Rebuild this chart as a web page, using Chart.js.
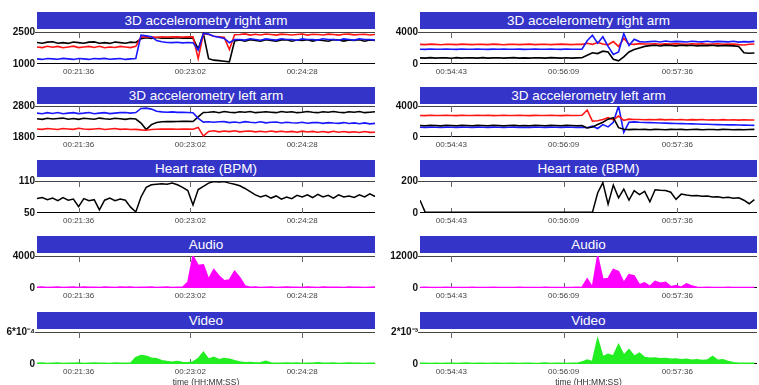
<!DOCTYPE html>
<html>
<head>
<meta charset="utf-8">
<script src="https://cdn.jsdelivr.net/npm/chart.js@4.4.1/dist/chart.umd.min.js"></script>
<style>
  body { margin: 0; width: 759px; height: 385px; position: relative; overflow: hidden; background: #fff;
         font-family: "Liberation Sans", Arial, sans-serif; }
  .banner { position: absolute; background: #3434c8; color: #fff; font-size: 13.5px; text-align: center;
            white-space: nowrap; }
  canvas { position: absolute; }
</style>
</head>
<body>
<script>
  // ---- panel titles and axes ----
  const titles = ['3D accelerometry right arm', '3D accelerometry left arm', 'Heart rate (BPM)', 'Audio', 'Video'];
  const xAxisTitle = 'time (HH:MM:SS)';

  const leftStart = 1264, leftEnd = 1524;      // seconds (00:21:04 - 00:25:24)
  const rightStart = 3259, rightEnd = 3517;    // seconds (00:54:19 - 00:58:37)
  const sampleStep = 4;

  const leftTickTimes = [1296, 1382, 1468];
  const leftTickLabels = ['00:21:36', '00:23:02', '00:24:28'];
  const rightTickTimes = [3283, 3369, 3456];
  const rightTickLabels = ['00:54:43', '00:56:09', '00:57:36'];

  const yRangesLeft = [[1000, 2500], [1800, 2800], [50, 110], [0, 4000], [0, 6e-4]];
  const yLabelsLeft = [['1000', '2500'], ['1800', '2800'], ['50', '110'], ['0', '4000'], ['0', '6*10⁻⁴']];
  const yRangesRight = [[0, 4000], [0, 4000], [0, 200], [0, 12000], [0, 2e-3]];
  const yLabelsRight = [['0', '4000'], ['0', '4000'], ['0', '200'], ['0', '12000'], ['0', '2*10⁻³']];

  // ---- left recording (sampled every 4 s) ----
  const lRightArmBlack = [2010,1970,2025,2040,1975,2000,1965,2030,2000,1970,2025,2035,1975,2000,1965,2030,2000,1975,2025,2010,
    2180,2230,2200,2240,2210,2220,2205,2230,2215,2225,2210,
    1700,2420,1250,1180,1160,1130,1100,2080,
    2130,2070,2140,2100,2065,2135,2100,2075,2130,2140,2070,2125,2100,2135,2075,2130,2100,2065,2140,2125,2075,2130,2100,2135,2070,2125,2100];
  const lRightArmRed = [1800,1770,1830,1785,1825,1765,1800,1835,1770,1800,1825,1775,1830,1765,1800,1775,1825,1800,1770,1830,
    2260,2280,2270,2255,2275,2265,2270,2280,2260,2275,2270,
    1250,2420,2380,2300,2280,2250,1680,2370,
    2380,2410,2355,2395,2360,2405,2380,2355,2400,2385,2360,2380,2405,2355,2395,2380,2360,2400,2380,2355,2395,2400,2365,2380,2395,2360,2380];
  const lRightArmBlue = [1240,1215,1260,1240,1220,1265,1240,1215,1260,1240,1215,1260,1240,1265,1220,1240,1260,1215,1240,1260,
    2350,2320,2280,2100,2040,2010,2000,2020,1990,2010,2000,
    1650,2440,2400,2300,2250,2200,2000,2150,
    2150,2120,2180,2145,2115,2175,2150,2120,2180,2145,2150,2115,2175,2145,2150,2120,2180,2150,2145,2115,2175,2150,2120,2180,2145,2150,2120];

  const lLeftArmBlue = [2570,2550,2585,2560,2590,2550,2570,2585,2555,2570,2590,2550,2570,2585,2555,2570,2585,2590,2570,2590,
    2720,2730,2700,
    2630,2610,2600,2610,2595,2600,2590,2580,
    2400,2280,
    2290,2275,2290,2295,2265,2285,2260,2295,2275,2260,2290,2255,2275,2285,2250,2275,2260,2250,2275,2245,2265,2270,2240,2265,2250,2240,2265,2235,2255,2230,2255,2225,2240];
  const lLeftArmBlack = [2390,2370,2405,2380,2395,2410,2375,2395,2370,2405,2390,2375,2410,2390,2375,2405,2390,2370,2395,2380,
    2250,2040,2200,
    2270,2290,2300,2295,2300,2310,2305,2300,
    2450,2590,
    2600,2615,2585,2620,2600,2585,2615,2600,2620,2585,2600,2615,2600,2585,2620,2600,2615,2585,2600,2620,2600,2585,2615,2600,2620,2600,2585,2615,2600,2620,2585,2600,2615];
  const lLeftArmRed = [2060,2045,2075,2060,2040,2075,2060,2045,2080,2060,2045,2060,2075,2040,2060,2075,2045,2060,2040,2045,
    2030,2020,2040,2050,2060,2055,2060,2050,2055,2060,2050,
    2110,1830,
    1980,2000,1965,1995,1975,2000,1965,1985,1995,1965,1985,1960,1995,1965,1985,1960,1980,1955,1990,1960,1980,1955,1975,1950,1985,1955,1975,1950,1970,1945,1975,1950,1955];

  const lHeartRate = [77,79,75,78,73,79,74,76,62,77,73,75,56,74,78,73,76,74,61,52,
    80,98,103,104,105,104,106,103,98,92,65,94,100,106,109,108,109,106,104,101,96,90,84,
    80,83,78,82,76,80,77,83,80,84,79,85,80,83,78,84,80,82,79,84,80,86,81];

  const lAudio = [80,120,60,100,140,70,90,110,60,130,80,100,70,120,90,60,110,80,130,70,100,90,120,60,80,110,70,100,90,
    700,4000,2800,2900,1100,2300,1500,900,1000,2100,1300,250,
    90,110,70,100,130,60,90,120,80,100,70,110,90,60,120,80,100,90,70,110,80,100,60,90,120];

  const lVideo = [1.2e-5,1.8e-5,1.0e-5,1.5e-5,2.0e-5,1.1e-5,1.6e-5,1.3e-5,1.9e-5,1.0e-5,1.4e-5,1.7e-5,1.2e-5,1.5e-5,1.1e-5,1.8e-5,1.3e-5,1.6e-5,1.2e-5,
    1.2e-4,1.6e-4,1.45e-4,1.1e-4,1.0e-4,6e-5,4.5e-5,3.5e-5,4.5e-5,3e-5,2.5e-5,4e-5,1.0e-4,2.2e-4,9e-5,1.25e-4,8e-5,1.05e-4,9e-5,6e-5,4e-5,2.5e-5,3e-5,2e-5,2.5e-5,5e-5,2e-5,
    1.5e-5,1.2e-5,2.0e-5,1.4e-5,1.8e-5,1.1e-5,1.6e-5,1.3e-5,2.2e-5,1.2e-5,1.5e-5,1.9e-5,1.0e-5,1.4e-5,1.7e-5,1.2e-5,1.6e-5,1.1e-5,1.5e-5,1.3e-5];

  // ---- right recording (sampled every 4 s) ----
  const rRightArmRed = [2450,2420,2480,2450,2415,2475,2450,2425,2480,2450,2420,2475,2450,2425,2480,2450,2415,2450,2475,2425,2450,2480,2420,2450,2475,2425,2450,2480,2450,2420,2475,2450,
    2600,2450,2700,2500,2400,2800,2200,3200,2500,2450,2550,2500,
    2500,2540,2460,2520,2480,2550,2500,2460,2530,2490,2540,2470,2500,2530,2460,2500,2480,2420,2380,2460,2500];
  const rRightArmBlue = [1850,1830,1870,1850,1835,1865,1850,1830,1870,1850,1835,1865,1850,1830,1865,1850,1870,1835,1850,1865,1830,1850,1870,1850,1835,1865,1850,1830,1870,1850,1835,1850,
    2900,3600,2600,3400,2200,1200,1500,3800,2300,3100,2800,2750,
    2800,2840,2760,2870,2780,2830,2800,2750,2850,2800,2770,2840,2760,2830,2800,2770,2840,2740,2800,2760,2830];
  const rRightArmBlack = [770,740,800,730,790,770,720,800,740,790,770,730,800,740,770,790,730,770,800,740,770,730,790,770,740,800,770,730,790,740,770,790,
    1100,1400,1300,1600,1500,600,400,900,1500,1800,2000,2200,
    2300,2340,2260,2360,2310,2270,2350,2300,2340,2260,2310,2300,2350,2270,2310,2300,2260,2200,1400,1350,1380];

  const rLeftArmRed = [2780,2760,2800,2780,2765,2795,2780,2760,2800,2780,2765,2795,2780,2800,2760,2780,2795,2765,2780,2800,2780,2760,2795,2780,2765,2800,2780,2760,2795,2780,2765,2800,
    3480,2050,2100,2250,2500,2200,2700,2150,2300,2250,
    2260,2230,2260,2220,2270,2210,2250,2220,2260,2200,2240,2210,2250,2190,2230,2200,2240,2190,2220,2180,2220,2190,2190];
  const rLeftArmBlack = [1480,1450,1510,1480,1440,1510,1480,1450,1510,1480,1460,1500,1480,1450,1510,1480,1440,1480,1510,1460,1480,1450,1510,1480,1450,1500,1480,1450,1510,1480,1460,1480,
    1170,1300,1600,1900,2300,2500,1200,1000,950,980,
    960,980,940,990,960,940,980,960,990,940,960,980,945,975,960,940,980,960,945,975,940,960,980];
  const rLeftArmBlue = [1260,1240,1280,1260,1235,1275,1260,1240,1280,1260,1245,1275,1260,1240,1280,1260,1235,1260,1280,1245,1260,1240,1280,1260,1240,1275,1260,1240,1280,1260,1245,1260,
    1200,1400,1100,1600,1300,1900,4000,600,1900,1950,
    1900,1880,1850,1830,1800,1790,1760,1740,1720,1700,1690,1670,1650,1640,1620,1600,1590,1570,1560,1540,1530,1510,1500];

  const rHeartRate = [80,4,
    4,4,4,4,4,4,4,4,4,4,4,4,4,4,4,4,4,4,4,4,4,4,4,4,4,4,4,4,4,4,4,4,
    125,190,55,175,95,150,80,140,115,135,70,
    145,142,140,130,85,118,112,108,110,104,106,100,102,96,98,92,95,80,58,84];

  const rAudio = [200,250,150,220,180,260,190,230,170,210,240,160,220,200,250,180,210,230,170,240,200,190,220,160,250,210,180,230,200,170,240,210,
    3400,300,12000,3300,3600,7000,6200,2000,5000,4500,1200,1900,600,2500,1800,2100,500,900,300,1600,800,300,
    200,250,180,220,200,240,190,210,230,180,200];

  const rVideo = [4e-5,5e-5,3e-5,4.5e-5,3.5e-5,5e-5,4e-5,3e-5,4.5e-5,5.5e-5,3.5e-5,4e-5,5e-5,3e-5,4e-5,4.5e-5,3.5e-5,5e-5,4e-5,3e-5,4.5e-5,5e-5,3.5e-5,4e-5,5.5e-5,3e-5,4e-5,4.5e-5,3.5e-5,5e-5,4e-5,
    1.2e-4,2.5e-4,1.5e-4,1.57e-3,4.5e-4,6e-4,5e-4,1.2e-3,5.5e-4,9e-4,4.8e-4,6.8e-4,4e-4,3.6e-4,3.8e-4,3.3e-4,3.5e-4,3e-4,3.2e-4,2.6e-4,3e-4,2.4e-4,2.7e-4,2.2e-4,2.5e-4,4.7e-4,2.3e-4,2.6e-4,1.5e-4,
    8e-5,5e-5,4e-5,5e-5,4e-5];

  const red = '#ff1414', blue = '#1818ff', black = '#000000', magenta = '#ff00ff', green = '#22ee22';

  // ---- layout ----
  const cols = [{ left: 37, width: 338 }, { left: 420, width: 337 }];
  const bannerTops = [12, 87, 160, 236, 312];
  const bannerH = 17;
  const plotTops = [32, 106, 181, 256, 332];
  const plotHs = [32, 31, 32, 32, 32];

  const leftTimes = lHeartRate.map((v, i) => leftStart + sampleStep * i);
  const rightTimes = rHeartRate.map((v, i) => rightStart + sampleStep * i);

  Chart.defaults.font.family = '"Liberation Sans", Arial, sans-serif';

  const framePlugin = {
    id: 'frame',
    beforeDatasetsDraw(chart) {
      const { ctx, chartArea: a, scales: { x } } = chart;
      ctx.save();
      ctx.lineWidth = 1;
      ctx.strokeStyle = '#444';
      ctx.beginPath();
      ctx.moveTo(a.left - 2, a.top + 0.5); ctx.lineTo(a.right, a.top + 0.5);
      ctx.stroke();
      ctx.strokeStyle = '#000';
      ctx.beginPath();
      ctx.moveTo(a.left, a.bottom - 0.5); ctx.lineTo(a.right, a.bottom - 0.5);
      ctx.stroke();
      ctx.strokeStyle = '#666';
      x.ticks.forEach(t => {
        const px = Math.round(x.getPixelForValue(t.value)) + 0.5;
        ctx.beginPath();
        ctx.moveTo(px, a.top); ctx.lineTo(px, a.top + 6);
        ctx.moveTo(px, a.bottom - 5); ctx.lineTo(px, a.bottom);
        ctx.stroke();
      });
      ctx.restore();
    }
  };

  function addPanel(c, r, yRange, yLabels, times, xRange, tickTimes, tickLabels, series, filled) {
    const col = cols[c];
    const banner = document.createElement('div');
    banner.className = 'banner';
    banner.style.left = col.left + 'px';
    banner.style.top = bannerTops[r] + 'px';
    banner.style.width = col.width + 'px';
    banner.style.height = bannerH + 'px';
    banner.style.lineHeight = bannerH + 'px';
    banner.textContent = titles[r];
    document.body.appendChild(banner);

    const last = r === 4;
    const axisH = last ? 24 : 20;
    const cw = 40 + col.width + 3, ch = 8 + plotHs[r] + axisH;
    const canvas = document.createElement('canvas');
    canvas.width = cw; canvas.height = ch;
    canvas.style.left = (col.left - 40) + 'px';
    canvas.style.top = (plotTops[r] - 8) + 'px';
    canvas.style.width = cw + 'px';
    canvas.style.height = ch + 'px';
    document.body.appendChild(canvas);

    new Chart(canvas, {
      type: 'line',
      data: {
        datasets: series.map(s => ({
          data: times.map((t, k) => ({ x: t, y: s.values[k] })),
          borderColor: s.color,
          backgroundColor: s.color,
          borderWidth: s.width || 1.6,
          pointRadius: 0,
          tension: 0,
          fill: filled ? 'origin' : false
        }))
      },
      options: {
        responsive: false,
        animation: false,
        devicePixelRatio: 1,
        layout: { padding: { top: 8, right: 3, left: 0, bottom: 0 } },
        plugins: { legend: { display: false }, tooltip: { enabled: false } },
        scales: {
          x: {
            type: 'linear',
            min: xRange[0], max: xRange[1],
            afterBuildTicks: s => { s.ticks = tickTimes.map(v => ({ value: v })); },
            afterFit: s => { s.height = axisH; },
            grid: { display: false, drawTicks: false },
            border: { display: false },
            ticks: {
              autoSkip: false, maxRotation: 0, padding: 3,
              font: { size: 8 }, color: '#444',
              callback: (v, i) => tickLabels[i]
            },
            title: { display: last, text: xAxisTitle, font: { size: 8.5 }, color: '#333', padding: { top: 0, bottom: 0 } }
          },
          y: {
            min: yRange[0], max: yRange[1],
            afterBuildTicks: s => { s.ticks = yRange.map(v => ({ value: v })); },
            afterFit: s => { s.width = 40; },
            grid: { display: false, drawTicks: false },
            border: { display: false },
            ticks: {
              autoSkip: false, padding: 2,
              font: { size: 10, weight: 'bold' }, color: '#111',
              callback: (v, i) => yLabels[i]
            }
          }
        }
      },
      plugins: [framePlugin]
    });
  }

  const L = [leftTimes, [leftStart, leftEnd], leftTickTimes, leftTickLabels];
  const R = [rightTimes, [rightStart, rightEnd], rightTickTimes, rightTickLabels];

  addPanel(0, 0, yRangesLeft[0], yLabelsLeft[0], ...L, [
    { values: lRightArmBlue, color: blue }, { values: lRightArmRed, color: red }, { values: lRightArmBlack, color: black }]);
  addPanel(0, 1, yRangesLeft[1], yLabelsLeft[1], ...L, [
    { values: lLeftArmRed, color: red }, { values: lLeftArmBlue, color: blue }, { values: lLeftArmBlack, color: black }]);
  addPanel(0, 2, yRangesLeft[2], yLabelsLeft[2], ...L, [{ values: lHeartRate, color: black, width: 1.5 }]);
  addPanel(0, 3, yRangesLeft[3], yLabelsLeft[3], ...L, [{ values: lAudio, color: magenta, width: 1.5 }], true);
  addPanel(0, 4, yRangesLeft[4], yLabelsLeft[4], ...L, [{ values: lVideo, color: green, width: 1.5 }], true);

  addPanel(1, 0, yRangesRight[0], yLabelsRight[0], ...R, [
    { values: rRightArmBlack, color: black }, { values: rRightArmBlue, color: blue }, { values: rRightArmRed, color: red }]);
  addPanel(1, 1, yRangesRight[1], yLabelsRight[1], ...R, [
    { values: rLeftArmBlack, color: black }, { values: rLeftArmRed, color: red }, { values: rLeftArmBlue, color: blue }]);
  addPanel(1, 2, yRangesRight[2], yLabelsRight[2], ...R, [{ values: rHeartRate, color: black, width: 1.5 }]);
  addPanel(1, 3, yRangesRight[3], yLabelsRight[3], ...R, [{ values: rAudio, color: magenta, width: 1.5 }], true);
  addPanel(1, 4, yRangesRight[4], yLabelsRight[4], ...R, [{ values: rVideo, color: green, width: 1.5 }], true);
</script>
</body>
</html>
